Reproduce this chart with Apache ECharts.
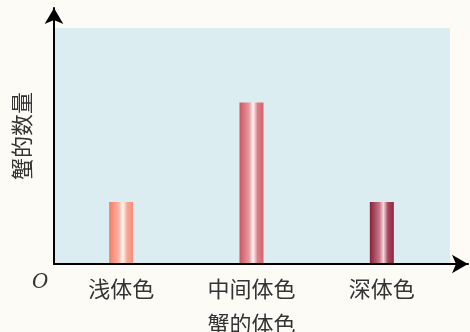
<!DOCTYPE html>
<html><head><meta charset="utf-8">
<script src="https://cdn.jsdelivr.net/npm/echarts@6/dist/echarts.min.js"></script>
<style>html,body{margin:0;padding:0;background:#fcfbf6}#c{width:470px;height:332px}</style>
</head><body><div id="c"></div>
<script>
const categories = ['浅体色', '中间体色', '深体色'];
const counts = [5, 13, 5];
const yName = '蟹的数量';
const xName = '蟹的体色';
const barColors = [
  ['#f47a68', '#fbb4a3', '#fff6f0', '#f8a594', '#f38f7d'],
  ['#cd5560', '#e59aa0', '#fff4f4', '#dc8088', '#d3646d'],
  ['#8b1e39', '#c47688', '#f6d8dc', '#a9485f', '#90263f']
];
function grad(c) {
  return new echarts.graphic.LinearGradient(0, 0, 1, 0, [
    {offset: 0, color: c[0]}, {offset: 0.4, color: c[1]}, {offset: 0.57, color: c[2]},
    {offset: 0.75, color: c[3]}, {offset: 1, color: c[4]}
  ]);
}
const font = '"Noto Sans CJK SC", sans-serif';
const chart = echarts.init(document.getElementById('c'));
chart.setOption({
  backgroundColor: '#fcfbf6',
  animation: false,
  grid: [
    {left: 56, right: 23, top: 28, bottom: 68, containLabel: false, outerBoundsMode: 'none'},
    {left: 54, right: 2, top: 8, bottom: 68, containLabel: false, outerBoundsMode: 'none'},
    {left: 55, right: 20, top: 28, bottom: 68, show: true, backgroundColor: '#dcedf1', borderWidth: 0, z: 0, containLabel: false, outerBoundsMode: 'none'}
  ],
  xAxis: [
    {type: 'category', gridIndex: 0, data: categories,
     axisLine: {show: false}, axisTick: {show: false},
     axisLabel: {fontSize: 22, color: '#333', margin: 14, fontFamily: font},
     name: xName, nameLocation: 'middle', nameGap: 49,
     nameTextStyle: {fontSize: 22, color: '#333', fontFamily: font}},
    {type: 'category', gridIndex: 1, data: categories, show: true, z: 5,
     axisLine: {show: true, lineStyle: {color: '#000', width: 2}, symbol: ['none', 'arrow'], symbolSize: [14, 16]},
     axisTick: {show: false}, axisLabel: {show: false}},
    {type: 'category', gridIndex: 2, show: false, data: categories}
  ],
  yAxis: [
    {type: 'value', gridIndex: 0, min: 0, max: 19,
     axisLine: {show: false}, axisTick: {show: false}, axisLabel: {show: false}, splitLine: {show: false}},
    {type: 'value', gridIndex: 1, min: 0, max: 1, z: 5,
     axisLine: {show: true, lineStyle: {color: '#000', width: 2}, symbol: ['none', 'arrow'], symbolSize: [14, 16]},
     axisTick: {show: false}, axisLabel: {show: false}, splitLine: {show: false},
     name: yName, nameLocation: 'middle', nameGap: 21, nameRotate: 90,
     nameTextStyle: {fontSize: 22, color: '#333', fontFamily: font}},
    {type: 'value', gridIndex: 2, show: false}
  ],
  series: [{
    type: 'bar', xAxisIndex: 0, yAxisIndex: 0, barWidth: 24,
    data: counts.map((v, i) => ({value: v, itemStyle: {color: grad(barColors[i])}}))
  }],
  graphic: [{
    type: 'text', left: 32, top: 273,
    style: {text: 'O', font: 'italic 20px "DejaVu Serif", serif', fill: '#333'}
  }]
});
</script></body></html>
